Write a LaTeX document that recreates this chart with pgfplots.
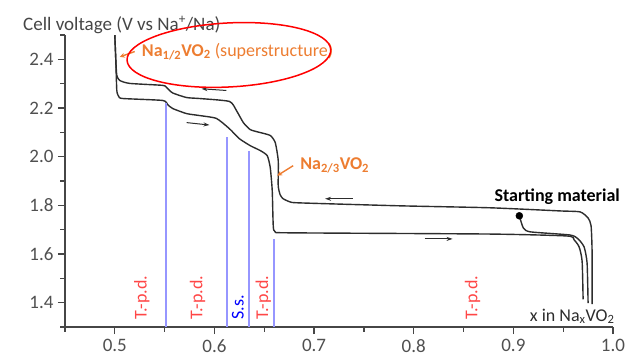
\documentclass[border=0pt]{standalone}
\usepackage{pgfplots}
\pgfplotsset{compat=1.18}
\usepackage{fontspec}
\setmainfont{Carlito}
\usetikzlibrary{arrows.meta,shapes.geometric}
\definecolor{orng}{RGB}{237,125,49}
\definecolor{crv}{RGB}{45,45,45}
\definecolor{tgray}{RGB}{80,80,80}
\definecolor{axgray}{RGB}{70,70,70}
\definecolor{bl}{RGB}{150,150,255}
\definecolor{rd}{RGB}{255,70,70}
\newcommand{\fs}{\fontsize{18bp}{21bp}\selectfont}
\newcommand{\fsb}{\fontsize{19bp}{22bp}\selectfont}
\begin{document}
\begin{tikzpicture}
\useasboundingbox (-65bp,-30bp) rectangle (561bp,327bp);
\begin{axis}[
  scale only axis, width=548bp, height=292bp,
  xmin=0.45, xmax=1.0, ymin=1.3, ymax=2.5,
  axis lines*=left,
  axis line style={axgray, line width=1.5bp},
  clip=false,
  xtick={0.5,0.6,0.7,0.8,0.9,1.0},
  minor xtick={0.45,0.55,0.65,0.75,0.85,0.95},
  ytick={1.4,1.6,1.8,2.0,2.2,2.4},
  minor ytick={1.3,1.5,1.7,1.9,2.1,2.3,2.5},
  tick align=outside,
  major tick length=7bp, minor tick length=4.5bp,
  tick style={axgray, line width=1.2bp},
  /pgf/number format/assume math mode=true,
  /pgf/number format/.cd, fixed, fixed zerofill, precision=1, /pgfplots/.cd,
  ticklabel style={font=\fsb, text=tgray},
  yticklabel style={xshift=-1bp},
  xticklabel style={yshift=-2bp},
]
% charge (upper)
\addplot[crv, line width=1.4bp, smooth, tension=0.35] coordinates {
(0.500,2.499) (0.501,2.396) (0.502,2.334) (0.505,2.313) (0.515,2.301) (0.548,2.293)
(0.552,2.284) (0.558,2.262) (0.572,2.243) (0.585,2.239) (0.615,2.227) (0.622,2.19)
(0.629,2.14) (0.636,2.111) (0.646,2.099) (0.656,2.087) (0.661,2.058) (0.664,1.984)
(0.664,1.88) (0.666,1.843) (0.669,1.827) (0.676,1.814) (0.686,1.81) (0.786,1.798)
(0.876,1.79) (0.947,1.777) (0.967,1.773) (0.975,1.748) (0.978,1.716) (0.979,1.612)
(0.979,1.394)};
% discharge (lower)
\addplot[crv, line width=1.4bp, smooth, tension=0.35] coordinates {
(0.500,2.499) (0.501,2.396) (0.502,2.272) (0.504,2.247) (0.508,2.239) (0.548,2.231)
(0.553,2.214) (0.558,2.198) (0.572,2.177) (0.585,2.169) (0.602,2.157) (0.615,2.115)
(0.625,2.074) (0.636,2.045) (0.646,2.025) (0.653,2.004) (0.656,1.955) (0.658,1.86)
(0.659,1.716) (0.661,1.691) (0.676,1.687) (0.876,1.682) (0.954,1.674) (0.961,1.658)
(0.966,1.629) (0.969,1.571) (0.970,1.414)};
% starting discharge
\addplot[crv, line width=1.4bp, smooth, tension=0.35] coordinates {
(0.906,1.757) (0.910,1.707) (0.917,1.691) (0.957,1.678) (0.965,1.662) (0.971,1.629)
(0.974,1.563) (0.975,1.398)};
\addplot[only marks, mark=*, mark size=3.5bp, black] coordinates {(0.906,1.757)};
% blue dotted lines
\addplot[bl, line width=2bp] coordinates {(0.551,1.3) (0.551,2.22)};
\addplot[bl, line width=2bp] coordinates {(0.613,1.3) (0.613,2.08)};
\addplot[bl, line width=2bp] coordinates {(0.635,1.3) (0.635,2.025)};
\addplot[bl, line width=2bp] coordinates {(0.660,1.3) (0.660,1.662)};
% black direction arrows
\addplot[crv, line width=1bp, -{Stealth[length=6bp,width=4bp]}] coordinates {(0.612,2.272) (0.587,2.279)};
\addplot[crv, line width=1bp, -{Stealth[length=6bp,width=4bp]}] coordinates {(0.572,2.140) (0.595,2.130)};
\addplot[crv, line width=1bp, -{Stealth[length=6bp,width=4bp]}] coordinates {(0.739,1.827) (0.711,1.827)};
\addplot[crv, line width=1bp, -{Stealth[length=6bp,width=4bp]}] coordinates {(0.811,1.662) (0.839,1.662)};
% orange annotation arrows
\addplot[orng, line width=1.4bp, -{Stealth[length=5bp,width=5bp]}] coordinates {(0.520,2.432) (0.505,2.41)};
\addplot[orng, line width=1.4bp, -{Stealth[length=5bp,width=5bp]}] coordinates {(0.679,1.963) (0.663,1.922)};
% texts
\node[anchor=west, inner sep=0, text=axgray, font=\fsb] at ([xshift=-42bp,yshift=10bp]rel axis cs:0,1) {Cell voltage (V vs Na\textsuperscript{+}/Na)};
\node[anchor=west, inner sep=0, text=orng, font=\fs] at (axis cs:0.527,2.432) {\textbf{Na\textsubscript{1/2}VO\textsubscript{2}} (superstructure)};
\node[anchor=west, inner sep=0, text=orng, font=\fs] at (axis cs:0.686,1.963) {\textbf{Na\textsubscript{2/3}VO\textsubscript{2}}};
\node[inner sep=0, text=black, font=\fs\bfseries] at (axis cs:0.944,1.835) {Starting material};
\node[inner sep=0, text=crv, font=\fs] at (axis cs:0.959,1.344) {x in Na\textsubscript{x}VO\textsubscript{2}};
\node[rotate=90, anchor=west, inner sep=0, text=rd, font=\fs] at (axis cs:0.527,1.329) {T.-p.d.};
\node[rotate=90, anchor=west, inner sep=0, text=rd, font=\fs] at (axis cs:0.583,1.329) {T.-p.d.};
\node[rotate=90, anchor=west, inner sep=0, text=blue, font=\fs] at (axis cs:0.6235,1.329) {S.s.};
\node[rotate=90, anchor=west, inner sep=0, text=rd, font=\fs] at (axis cs:0.649,1.329) {T.-p.d.};
\node[rotate=90, anchor=west, inner sep=0, text=rd, font=\fs] at (axis cs:0.859,1.329) {T.-p.d.};
% ellipse
\node[draw=red, ellipse, line width=1.5bp, minimum width=204bp, minimum height=64bp, inner sep=0, rotate=3] at (axis cs:0.6145,2.418) {};
\end{axis}
\end{tikzpicture}
\end{document}
